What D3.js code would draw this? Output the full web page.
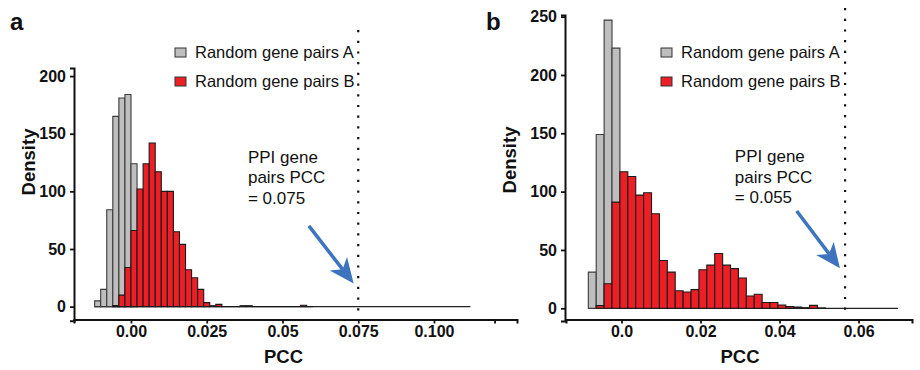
<!DOCTYPE html>
<html>
<head>
<meta charset="utf-8">
<script src="https://cdn.jsdelivr.net/npm/d3@7"></script>
<style>
  html, body { margin: 0; padding: 0; background: #fff; }
  svg { display: block; font-family: "Liberation Sans", Arial, Helvetica, sans-serif; }
</style>
</head>
<body>
<svg id="chart" width="920" height="370"></svg>
<script>
// histogram bin width (PCC units)
const binWidth = 0.002;

// panel a
const aGrayStart = -0.012;
const aGrayCounts = [5, 15, 84, 165, 181, 184, 124];
const aRedStart = -0.006;
const aRedCounts = [1, 10, 34, 66, 102, 124, 142, 117, 100, 100, 65, 54, 32, 25, 15, 3.5, 0.8, 2,
  0, 0, 0, 0.8, 0.8, 0, 0, 0, 0, 0, 0, 0, 0, 1.2, 0];
const aTailEnd = 0.112;
const aPPI = 0.075;
const aXTicks = [0, 0.025, 0.05, 0.075, 0.1, 0.12];
const aXLabels = ["0.00", "0.025", "0.05", "0.075", "0.100", ""];
const aYTicks = [0, 50, 100, 150, 200];

// panel b
const bGrayStart = -0.0084;
const bGrayCounts = [31, 149, 247, 223];
const bRedStart = -0.0064;
const bRedCounts = [2.3, 21, 91, 117, 113, 97, 99, 81, 41, 31, 15, 14, 16, 33, 37, 47, 37, 34, 26,
  10.5, 12, 5, 5, 2.8, 1.4, 1, 0.5, 2.5, 0.3];
const bTailEnd = 0.070;
const bPPI = 0.0566;
const bXTicks = [0, 0.02, 0.04, 0.06];
const bXLabels = ["0.0", "0.02", "0.04", "0.06"];
const bYTicks = [0, 50, 100, 150, 200, 250];

const legendLabels = ["Random gene pairs A", "Random gene pairs B"];
const colors = { gray: "#bebebe", red: "#ec1f26", arrow: "#3d74bd" };

const svg = d3.select("#chart");

function drawPanel(p) {
  const g = svg.append("g");

  const x = d3.scaleLinear().domain(p.xDomain).range(p.xRange);
  const y = d3.scaleLinear().domain(p.yDomain).range(p.yRange);

  // baseline of empty bins
  g.append("line")
    .attr("x1", x(p.grayStart)).attr("x2", x(p.tailEnd))
    .attr("y1", y(0)).attr("y2", y(0))
    .attr("stroke", "#222").attr("stroke-width", 1.3);

  const series = [
    { start: p.grayStart, counts: p.grayCounts, fill: colors.gray, stroke: "#3a3a3a" },
    { start: p.redStart, counts: p.redCounts, fill: colors.red, stroke: "#1a1a1a" }
  ];

  series.forEach(s => {
    g.append("g").selectAll("path")
      .data(s.counts)
      .enter()
      .append("path")
      .attr("d", (d, i) => {
        const x0 = x(s.start + i * binWidth), x1 = x(s.start + (i + 1) * binWidth);
        return `M${x0},${y(0)}V${y(d)}H${x1}V${y(0)}Z`;
      })
      .attr("fill", s.fill)
      .attr("stroke", s.stroke)
      .attr("stroke-width", 1.1);
  });

  // dotted PPI line
  g.append("line")
    .attr("x1", x(p.ppi)).attr("x2", x(p.ppi))
    .attr("y1", p.dotTop).attr("y2", y(0) + 4)
    .attr("stroke", "#111").attr("stroke-width", 2.2)
    .attr("stroke-dasharray", "2.2,8.5");

  // axes
  const xAxis = g.append("g")
    .attr("transform", `translate(0,${p.axisY})`)
    .call(d3.axisBottom(x).tickValues(p.xTicks)
      .tickFormat((d, i) => p.xLabels[i]).tickSizeOuter(0).tickSize(4).tickPadding(2));
  const yAxis = g.append("g")
    .attr("transform", `translate(${p.axisX},0)`)
    .call(d3.axisLeft(y).tickValues(p.yTicks).tickSizeOuter(0).tickSize(4).tickPadding(4));

  [xAxis, yAxis].forEach(a => {
    a.select(".domain").attr("stroke", "#111").attr("stroke-width", 2);
    a.selectAll(".tick line").attr("stroke", "#111").attr("stroke-width", 1.8);
    a.selectAll(".tick text")
      .attr("font-family", "Liberation Sans, Arial, sans-serif")
      .attr("font-size", 16).attr("font-weight", "bold").attr("fill", "#111");
  });

  // axis titles
  g.append("text")
    .attr("x", (p.xRange[0] + p.xRange[1]) / 2 + p.titleShift)
    .attr("y", 363)
    .attr("text-anchor", "middle")
    .attr("font-size", 18.5).attr("font-weight", "bold").attr("fill", "#111")
    .text("PCC");
  g.append("text")
    .attr("transform", `translate(${p.densityX},${p.densityY}) rotate(-90)`)
    .attr("text-anchor", "middle")
    .attr("font-size", 18.5).attr("font-weight", "bold").attr("fill", "#111")
    .text("Density");

  // panel letter
  g.append("text")
    .attr("x", p.letterX).attr("y", 29.5)
    .attr("font-size", 24).attr("font-weight", "bold").attr("fill", "#111")
    .text(p.letter);

  // legend
  const leg = g.append("g").attr("transform", `translate(${p.legendX},48)`);
  [colors.gray, colors.red].forEach((c, i) => {
    leg.append("rect")
      .attr("x", 0).attr("y", i * 29).attr("width", 11).attr("height", 9)
      .attr("fill", c).attr("stroke", "#333").attr("stroke-width", 1);
    leg.append("text")
      .attr("x", 20).attr("y", i * 29 + 10)
      .attr("font-size", 16.5).attr("fill", "#111")
      .text(legendLabels[i]);
  });

  // annotation
  const note = g.append("text")
    .attr("x", x(p.noteX)).attr("y", y(125))
    .attr("font-size", 17).attr("fill", "#111");
  p.noteLines.forEach((t, i) => {
    note.append("tspan").attr("x", x(p.noteX)).attr("dy", i === 0 ? 0 : 20.5).text(t);
  });

  // arrow
  const sx = x(p.arrowFrom[0]), sy = y(p.arrowFrom[1]);
  const tx = x(p.arrowTo[0]), ty = y(p.arrowTo[1]);
  const ang = Math.atan2(ty - sy, tx - sx);
  const headLen = 25, headHalf = 11, notch = 18;
  const bx = tx - headLen * Math.cos(ang), by = ty - headLen * Math.sin(ang);
  const nx = tx - notch * Math.cos(ang), ny = ty - notch * Math.sin(ang);
  g.append("line")
    .attr("x1", sx).attr("y1", sy).attr("x2", nx).attr("y2", ny)
    .attr("stroke", colors.arrow).attr("stroke-width", 3.5);
  const px = -Math.sin(ang), py = Math.cos(ang);
  g.append("path")
    .attr("d", `M${tx},${ty}L${bx + px * headHalf},${by + py * headHalf}L${nx},${ny}L${bx - px * headHalf},${by - py * headHalf}Z`)
    .attr("fill", colors.arrow);
}

drawPanel({
  letter: "a", letterX: 10,
  xDomain: [-0.01881, 0.1274], xRange: [74, 517],
  yDomain: [-12.2, 207], yRange: [320.7, 68],
  axisX: 74, axisY: 319.5,
  grayStart: aGrayStart, grayCounts: aGrayCounts,
  redStart: aRedStart, redCounts: aRedCounts,
  tailEnd: aTailEnd, ppi: aPPI, dotTop: 30,
  xTicks: aXTicks, xLabels: aXLabels, yTicks: aYTicks,
  titleShift: -12, densityX: 35, densityY: 162,
  legendX: 175,
  noteX: 0.0386, noteLines: ["PPI gene", "pairs PCC", "= 0.075"],
  arrowFrom: [0.0587, 70], arrowTo: [0.0735, 20]
});

drawPanel({
  letter: "b", letterX: 486,
  xDomain: [-0.01405, 0.07354], xRange: [566, 912],
  yDomain: [-10.9, 251.4], yRange: [321, 15],
  axisX: 565, axisY: 319.5,
  grayStart: bGrayStart, grayCounts: bGrayCounts,
  redStart: bRedStart, redCounts: bRedCounts,
  tailEnd: bTailEnd, ppi: bPPI, dotTop: 8,
  xTicks: bXTicks, xLabels: bXLabels, yTicks: bYTicks,
  titleShift: 1, densityX: 516, densityY: 160,
  legendX: 661,
  noteX: 0.0287, noteLines: ["PPI gene", "pairs PCC", "= 0.055"],
  arrowFrom: [0.04435, 83.4], arrowTo: [0.0553, 34.3]
});
</script>
</body>
</html>
